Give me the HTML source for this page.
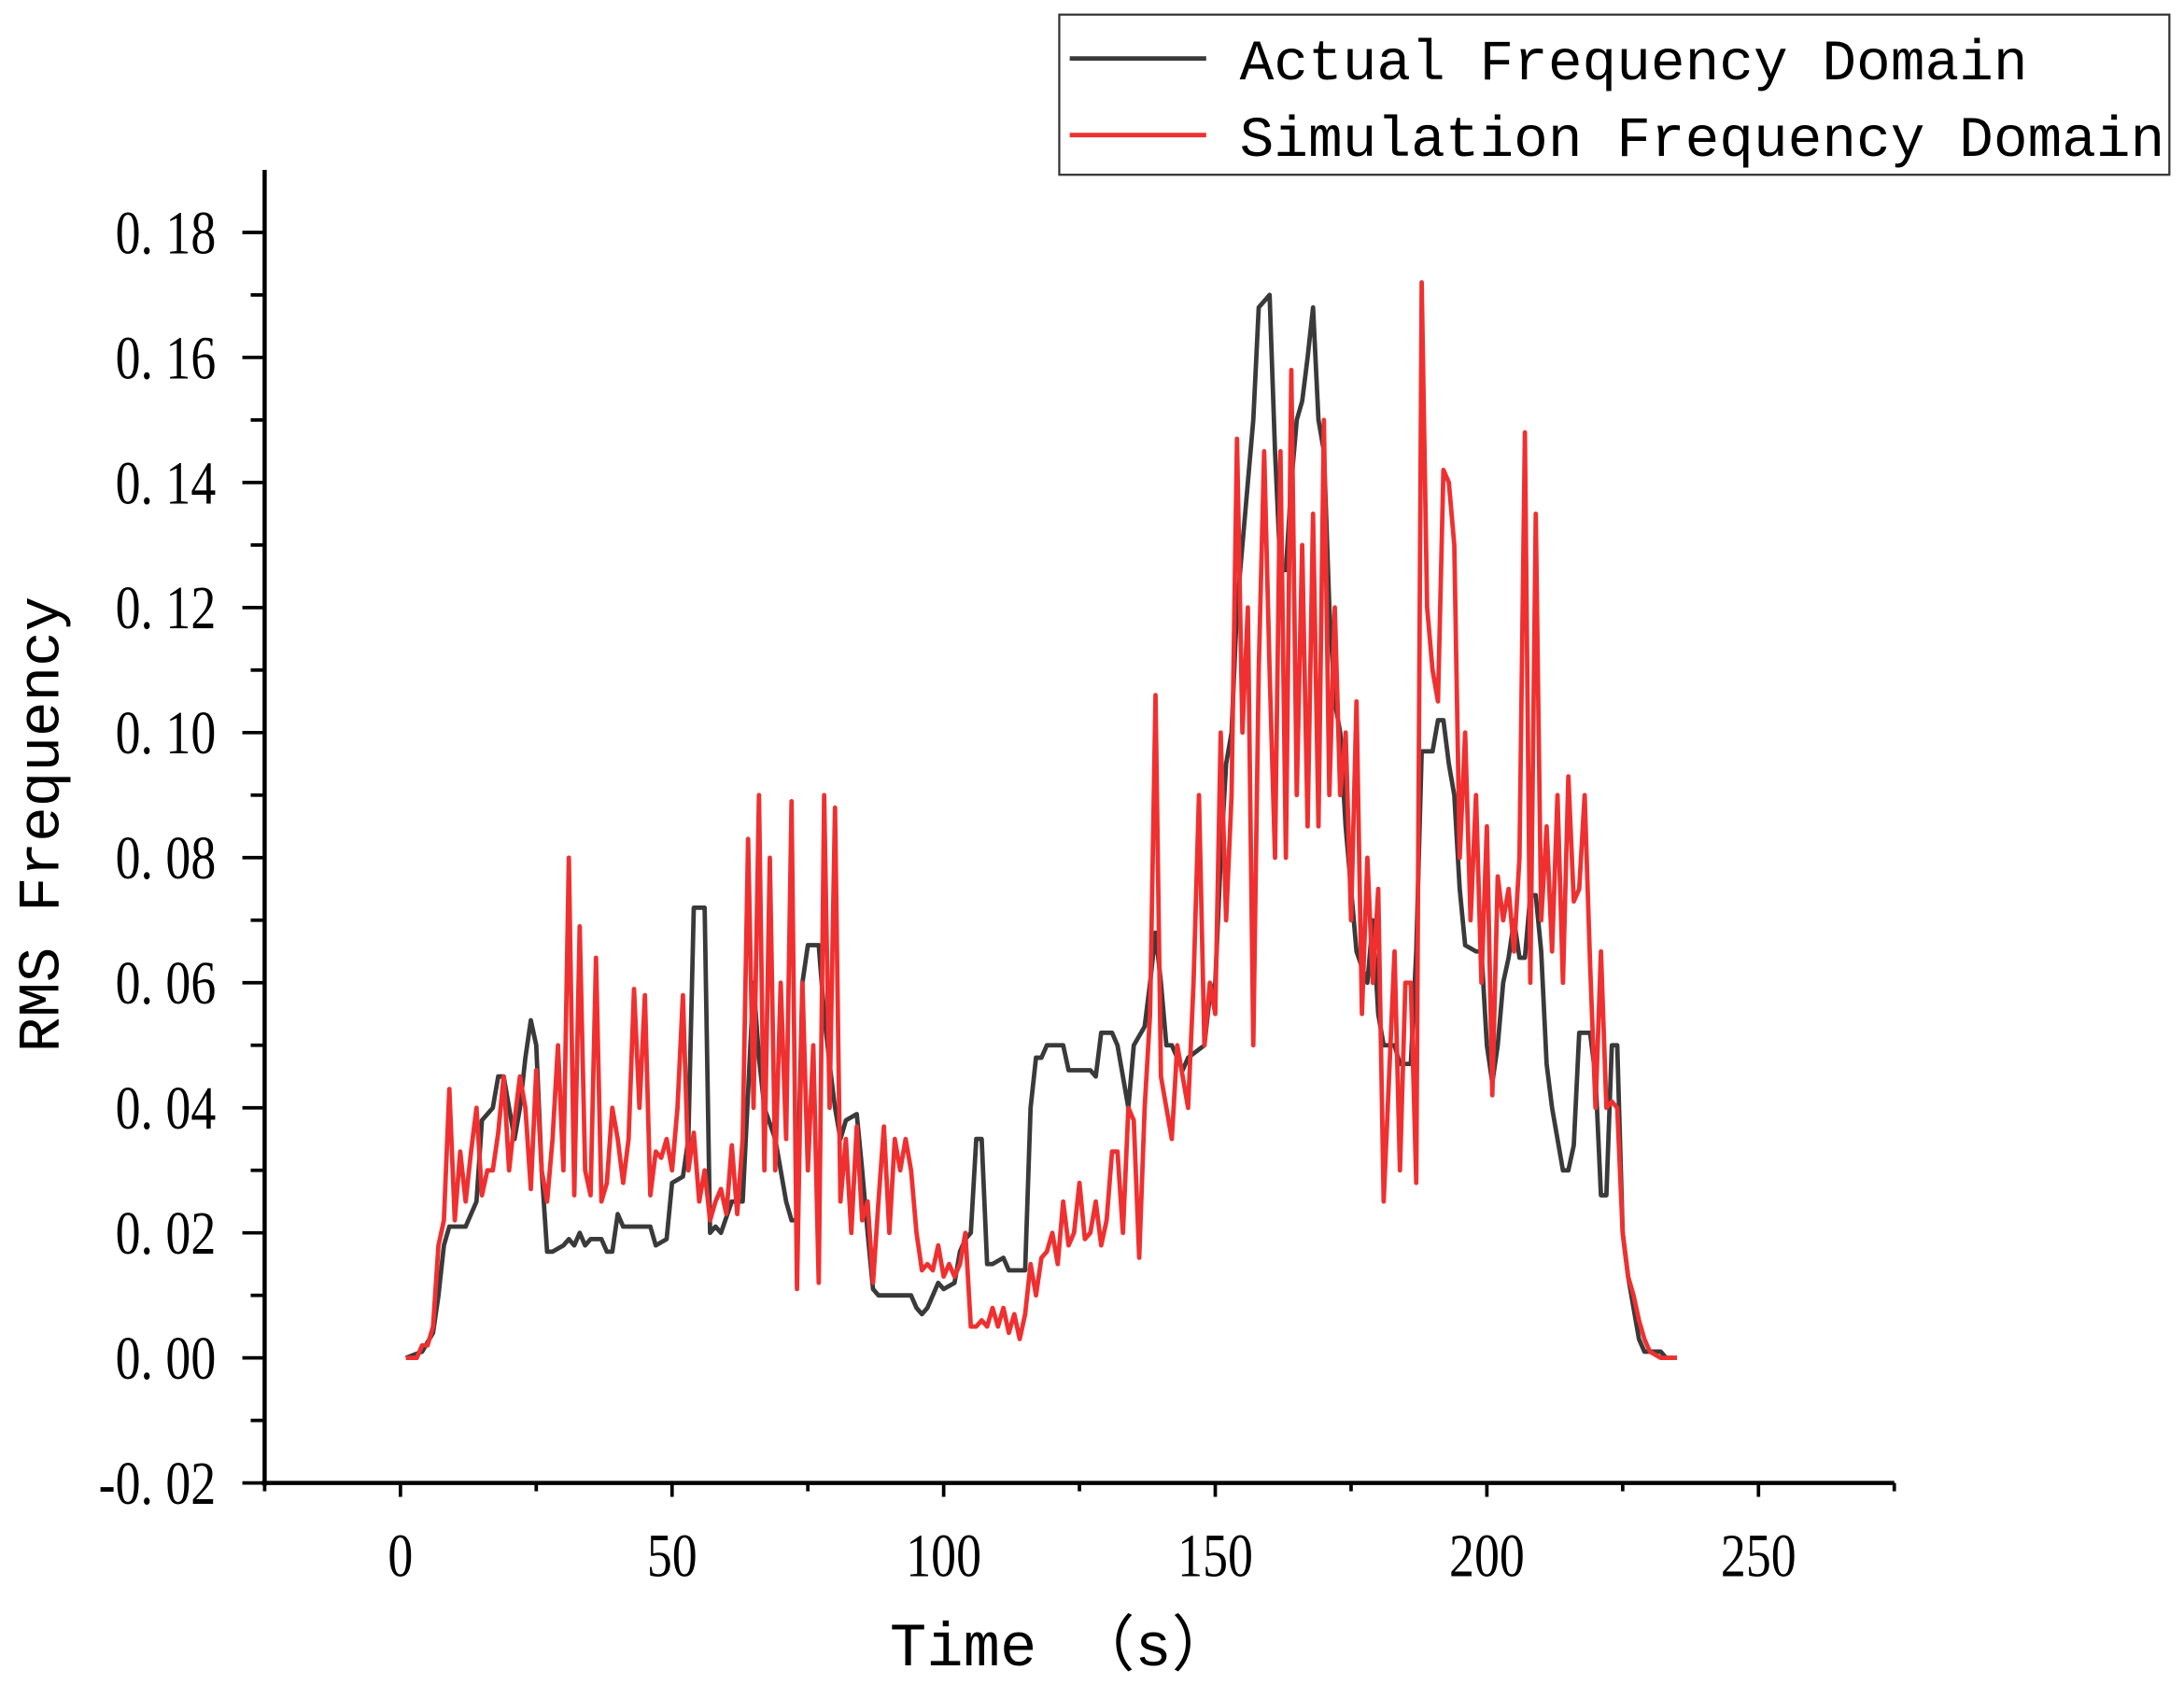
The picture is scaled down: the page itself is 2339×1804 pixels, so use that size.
<!DOCTYPE html>
<html><head><meta charset="utf-8"><style>
html,body{margin:0;padding:0;background:#fff;width:2339px;height:1804px;overflow:hidden}
svg{display:block}
text{font-family:"Liberation Serif","Noto Serif CJK SC",serif;fill:#000}
.mono{font-family:"Liberation Mono","Noto Sans CJK SC",monospace}
</style></head><body>
<svg id="chart" width="2339" height="1804" viewBox="0 0 1568 1209.4" preserveAspectRatio="none" xmlns="http://www.w3.org/2000/svg">
<g id="plot"></g>
<g id="axes"></g>
<text transform="translate(42,592) rotate(-90)" text-anchor="middle" font-size="42" class="mono">RMS Frequency</text>
<text x="762" y="1196" text-anchor="middle" font-size="44" class="mono">Time （s）</text>
<g>
<rect x="760.5" y="10.5" width="797" height="115" fill="#fff" stroke="#333" stroke-width="1.5"/>
<line x1="768" y1="42" x2="866" y2="42" stroke="#3a3a3a" stroke-width="3.2"/>
<text x="890" y="57" font-size="41" class="mono">Actual Frequency Domain</text>
<line x1="768" y1="97" x2="866" y2="97" stroke="#f03030" stroke-width="3.2"/>
<text x="890" y="112" font-size="41" class="mono">Simulation Frequency Domain</text>
</g>
</svg>
<script>
const actualT=[1,4,6,7,8,9,12,14,15,17,18,19,20,21,22,23,24,25,26,27,28,30,31,32,33,34,35,37,38,39,40,41,45,46,47,49,50,52,53,54,56,57,58,59,61,63,65,66,67,69,71,72,73,74,75,77,78,79,80,81,82,84,85,86,87,88,94,95,96,97,98,99,100,102,103,104,105,106,107,108,109,111,112,115,116,117,118,119,122,123,127,128,129,131,132,134,135,137,138,139,140,141,142,144,145,148,149,150,151,152,153,154,155,157,158,159,160,161,162,163,164,165,166,167,168,169,170,171,172,173,174,175,176,178,179,180,181,183,184,186,187,188,190,191,192,193,194,195,196,198,199,200,201,202,203,204,205,206,207,208,209,210,211,212,213,214,215,216,217,219,220,221,222,223,224,225,226,227,228,229,230,232,233,235];
const actualV=[0,0.001,0.004,0.01,0.018,0.021,0.021,0.025,0.038,0.04,0.045,0.045,0.04,0.035,0.04,0.048,0.054,0.05,0.03,0.017,0.017,0.018,0.019,0.018,0.02,0.018,0.019,0.019,0.017,0.017,0.023,0.021,0.021,0.021,0.018,0.019,0.028,0.029,0.035,0.072,0.072,0.02,0.021,0.02,0.025,0.025,0.06,0.048,0.04,0.035,0.025,0.022,0.022,0.06,0.066,0.066,0.055,0.047,0.04,0.035,0.038,0.039,0.03,0.02,0.011,0.01,0.01,0.008,0.007,0.008,0.01,0.012,0.011,0.012,0.017,0.019,0.02,0.035,0.035,0.015,0.015,0.016,0.014,0.014,0.04,0.048,0.048,0.05,0.05,0.046,0.046,0.045,0.052,0.052,0.05,0.04,0.05,0.053,0.06,0.068,0.06,0.05,0.05,0.046,0.048,0.05,0.058,0.06,0.08,0.095,0.1,0.12,0.13,0.15,0.168,0.169,0.17,0.145,0.126,0.126,0.14,0.15,0.153,0.16,0.168,0.15,0.145,0.12,0.105,0.1,0.085,0.075,0.065,0.06,0.07,0.055,0.05,0.05,0.047,0.047,0.065,0.097,0.097,0.102,0.102,0.095,0.09,0.075,0.066,0.065,0.065,0.05,0.044,0.05,0.06,0.064,0.07,0.064,0.064,0.074,0.074,0.065,0.047,0.04,0.035,0.03,0.03,0.034,0.052,0.052,0.045,0.026,0.026,0.05,0.05,0.02,0.013,0.008,0.003,0.001,0.001,0.001,0,0];
const simT=[1,3,4,5,6,7,8,9,10,11,12,13,14,15,16,17,18,19,20,21,22,23,24,25,26,27,28,29,30,31,32,33,34,35,36,37,38,39,40,41,42,43,44,45,46,47,48,49,50,51,52,53,54,55,56,57,58,59,60,61,62,63,64,65,66,67,68,69,70,71,72,73,74,75,76,77,78,79,80,81,82,83,84,85,86,87,88,89,90,91,92,93,94,95,96,97,98,99,100,101,102,103,104,105,106,107,108,109,110,111,112,113,114,115,116,117,118,119,120,121,122,123,124,125,126,127,128,129,130,131,132,133,134,135,136,137,138,139,140,141,142,143,144,145,146,147,148,149,150,151,152,153,154,155,156,157,158,159,160,161,162,163,164,165,166,167,168,169,170,171,172,173,174,175,176,177,178,179,180,181,182,183,184,185,186,187,188,189,190,191,192,193,194,195,196,197,198,199,200,201,202,203,204,205,206,207,208,209,210,211,212,213,214,215,216,217,218,219,220,221,222,223,224,225,226,227,228,229,230,232,235];
const simV=[0,0,0.002,0.002,0.005,0.018,0.022,0.043,0.022,0.033,0.025,0.033,0.04,0.026,0.03,0.03,0.036,0.045,0.03,0.038,0.045,0.04,0.027,0.046,0.03,0.025,0.035,0.05,0.03,0.08,0.026,0.069,0.03,0.026,0.064,0.025,0.028,0.04,0.035,0.028,0.035,0.059,0.04,0.058,0.026,0.033,0.032,0.035,0.03,0.04,0.058,0.03,0.036,0.025,0.03,0.022,0.025,0.027,0.023,0.034,0.023,0.035,0.083,0.04,0.09,0.03,0.08,0.03,0.06,0.035,0.089,0.011,0.06,0.03,0.05,0.012,0.09,0.04,0.088,0.025,0.035,0.02,0.037,0.022,0.025,0.012,0.025,0.037,0.02,0.035,0.03,0.035,0.03,0.02,0.014,0.015,0.014,0.018,0.013,0.015,0.013,0.015,0.02,0.005,0.005,0.006,0.005,0.008,0.005,0.008,0.004,0.007,0.003,0.007,0.015,0.01,0.016,0.017,0.02,0.015,0.025,0.018,0.02,0.028,0.019,0.02,0.025,0.018,0.022,0.033,0.033,0.02,0.04,0.038,0.016,0.04,0.055,0.106,0.045,0.04,0.035,0.05,0.045,0.04,0.06,0.09,0.05,0.06,0.055,0.1,0.07,0.09,0.147,0.1,0.12,0.05,0.11,0.145,0.11,0.08,0.145,0.08,0.158,0.09,0.13,0.085,0.135,0.085,0.15,0.09,0.12,0.09,0.1,0.07,0.105,0.055,0.08,0.06,0.075,0.025,0.045,0.065,0.03,0.06,0.06,0.028,0.172,0.12,0.11,0.105,0.142,0.14,0.13,0.08,0.1,0.07,0.09,0.06,0.085,0.042,0.077,0.07,0.075,0.065,0.08,0.148,0.06,0.135,0.07,0.085,0.065,0.09,0.06,0.093,0.073,0.075,0.09,0.063,0.04,0.065,0.04,0.041,0.04,0.02,0.013,0.01,0.006,0.003,0.001,0,0];
const xTicks=[0,50,100,150,200,250];
const xTickLabels=["0","50","100","150","200","250"];
const yTicks=[-0.02,0,0.02,0.04,0.06,0.08,0.1,0.12,0.14,0.16,0.18];
const yTickLabels=["-0. 02","0. 00","0. 02","0. 04","0. 06","0. 08","0. 10","0. 12","0. 14","0. 16","0. 18"];

const NS="http://www.w3.org/2000/svg";
const X0=190,X1=1360,Y0=1065,Y1=122,xmin=-25,xmax=275,ymin=-0.02,ymax=0.19;
const sx=t=>X0+(t-xmin)/(xmax-xmin)*(X1-X0);
const sy=v=>Y0-(v-ymin)/(ymax-ymin)*(Y0-Y1);
function mk(tag,attrs,parent){const e=document.createElementNS(NS,tag);for(const k in attrs)e.setAttribute(k,attrs[k]);parent.appendChild(e);return e;}
const plot=document.getElementById('plot'),axes=document.getElementById('axes');

function series(T,V,color,name){
  const d=T.map((t,i)=>(i?'L':'M')+sx(t).toFixed(1)+' '+sy(V[i]).toFixed(1)).join(' ');
  const p=mk('path',{d:d,fill:'none',stroke:color,'stroke-width':3.2,'stroke-linejoin':'round'},plot);
  
  
}
series(actualT,actualV,'#3a3a3a','actual-frequency-line');
series(simT,simV,'#f03030','simulation-frequency-line');

const ya=mk('line',{x1:X0,y1:Y1,x2:X0,y2:Y0+2,stroke:'#000','stroke-width':3},axes);


const xa=mk('line',{x1:X0-2,y1:Y0,x2:X1,y2:Y0,stroke:'#000','stroke-width':3},axes);



for(let t=-25;t<=275;t+=25){
  const major=xTicks.includes(t);
  const tk=mk('line',{x1:sx(t),y1:Y0,x2:sx(t),y2:Y0+(major?10:6),stroke:'#000','stroke-width':2.5},axes);
  
  
}
xTicks.forEach((t,i)=>{
  const tx=mk('text',{transform:'translate('+sx(t)+',1132) scale(0.82,1)','text-anchor':'middle','font-size':44},axes);
  tx.textContent=xTickLabels[i];
  
  
});
for(let k=-2;k<=18;k++){
  const v=k/100,major=k%2===0;
  const tk=mk('line',{x1:X0-(major?16:10),y1:sy(v),x2:X0,y2:sy(v),stroke:'#000','stroke-width':2.5},axes);
  
  
}
yTicks.forEach((v,i)=>{
  const tx=mk('text',{transform:'translate(155,'+(sy(v)+15)+') scale(0.82,1)','text-anchor':'end','font-size':44},axes);
  tx.textContent=yTickLabels[i];
  
  
});
</script>
</body></html>
